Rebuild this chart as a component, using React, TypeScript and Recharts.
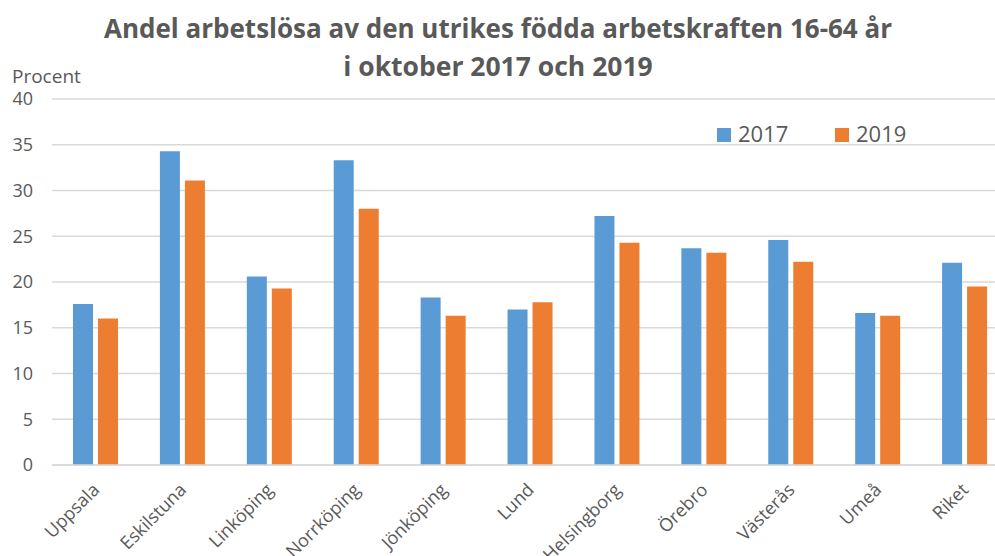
import React from "react";
import { BarChart, Bar, XAxis, YAxis, CartesianGrid } from "recharts";

const categories = ["Uppsala", "Eskilstuna", "Linköping", "Norrköping", "Jönköping", "Lund", "Helsingborg", "Örebro", "Västerås", "Umeå", "Riket"];
const values2017 = [17.6, 34.3, 20.6, 33.3, 18.3, 17.0, 27.2, 23.7, 24.6, 16.6, 22.1];
const values2019 = [16.0, 31.1, 19.3, 28.0, 16.3, 17.8, 24.3, 23.2, 22.2, 16.3, 19.5];
const yTicks = [0, 5, 10, 15, 20, 25, 30, 35, 40];
const seriesNames = ["2017", "2019"];
const titleLines = ["Andel arbetslösa av den utrikes födda arbetskraften 16-64 år", "i oktober 2017 och 2019"];
const yLabel = "Procent";

const data = categories.map((c, i) => ({ name: c, v2017: values2017[i], v2019: values2019[i] }));

const BLUE = "#5B9BD5";
const ORANGE = "#ED7D31";
const TEXT = "#595959";
const GRID = "#D9D9D9";
const FONT = "'Open Sans', sans-serif";

const XTick = (props: any) => {
  const { x, y, payload } = props;
  const ax = x + 5;
  const ay = y + 26;
  return (
    <text
      x={ax}
      y={ay}
      textAnchor="end"
      transform={`rotate(-45, ${ax}, ${ay})`}
      fontSize={18}
      fontFamily={FONT}
      fill={TEXT}
    >
      {payload.value}
    </text>
  );
};

export default function App() {
  return (
    <div style={{ position: "absolute", left: 0, top: 0, width: 995, height: 556, overflow: "hidden", background: "#fff" }}>
      <BarChart
        width={1010}
        height={556}
        data={data}
        margin={{ top: 99, right: 2, bottom: 0, left: 0 }}
        barSize={20}
        barGap={5}
      >
        <CartesianGrid vertical={false} stroke={GRID} strokeWidth={1.3} />
        <XAxis
          dataKey="name"
          height={91}
          interval={0}
          tickLine={false}
          axisLine={{ stroke: GRID, strokeWidth: 1.3 }}
          tickSize={0}
          tickMargin={0}
          tick={<XTick />}
        />
        <YAxis
          domain={[0, 40]}
          ticks={yTicks}
          width={52}
          axisLine={false}
          tickLine={false}
          tickSize={0}
          tickMargin={19}
          tick={{ fontSize: 18, fontFamily: FONT, fill: TEXT }}
        />
        <Bar dataKey="v2017" name={seriesNames[0]} fill={BLUE} isAnimationActive={false} />
        <Bar dataKey="v2019" name={seriesNames[1]} fill={ORANGE} isAnimationActive={false} />
      </BarChart>
      <svg width={995} height={556} style={{ position: "absolute", left: 0, top: 0, pointerEvents: "none" }}>
        <text x={498} y={38} textAnchor="middle" fontFamily={FONT} fontWeight={700} fontSize={26} fill={TEXT}>
          {titleLines[0]}
        </text>
        <text x={498} y={75.5} textAnchor="middle" fontFamily={FONT} fontWeight={700} fontSize={26.5} fill={TEXT}>
          {titleLines[1]}
        </text>
        <text x={12} y={83} fontFamily={FONT} fontSize={19} fill={TEXT}>
          {yLabel}
        </text>
        <rect x={717} y={128} width={14} height={14} fill={BLUE} />
        <text x={738} y={142} fontFamily={FONT} fontSize={22} fill={TEXT}>
          {seriesNames[0]}
        </text>
        <rect x={835} y={128} width={14} height={14} fill={ORANGE} />
        <text x={856} y={142} fontFamily={FONT} fontSize={22} fill={TEXT}>
          {seriesNames[1]}
        </text>
      </svg>
    </div>
  );
}
